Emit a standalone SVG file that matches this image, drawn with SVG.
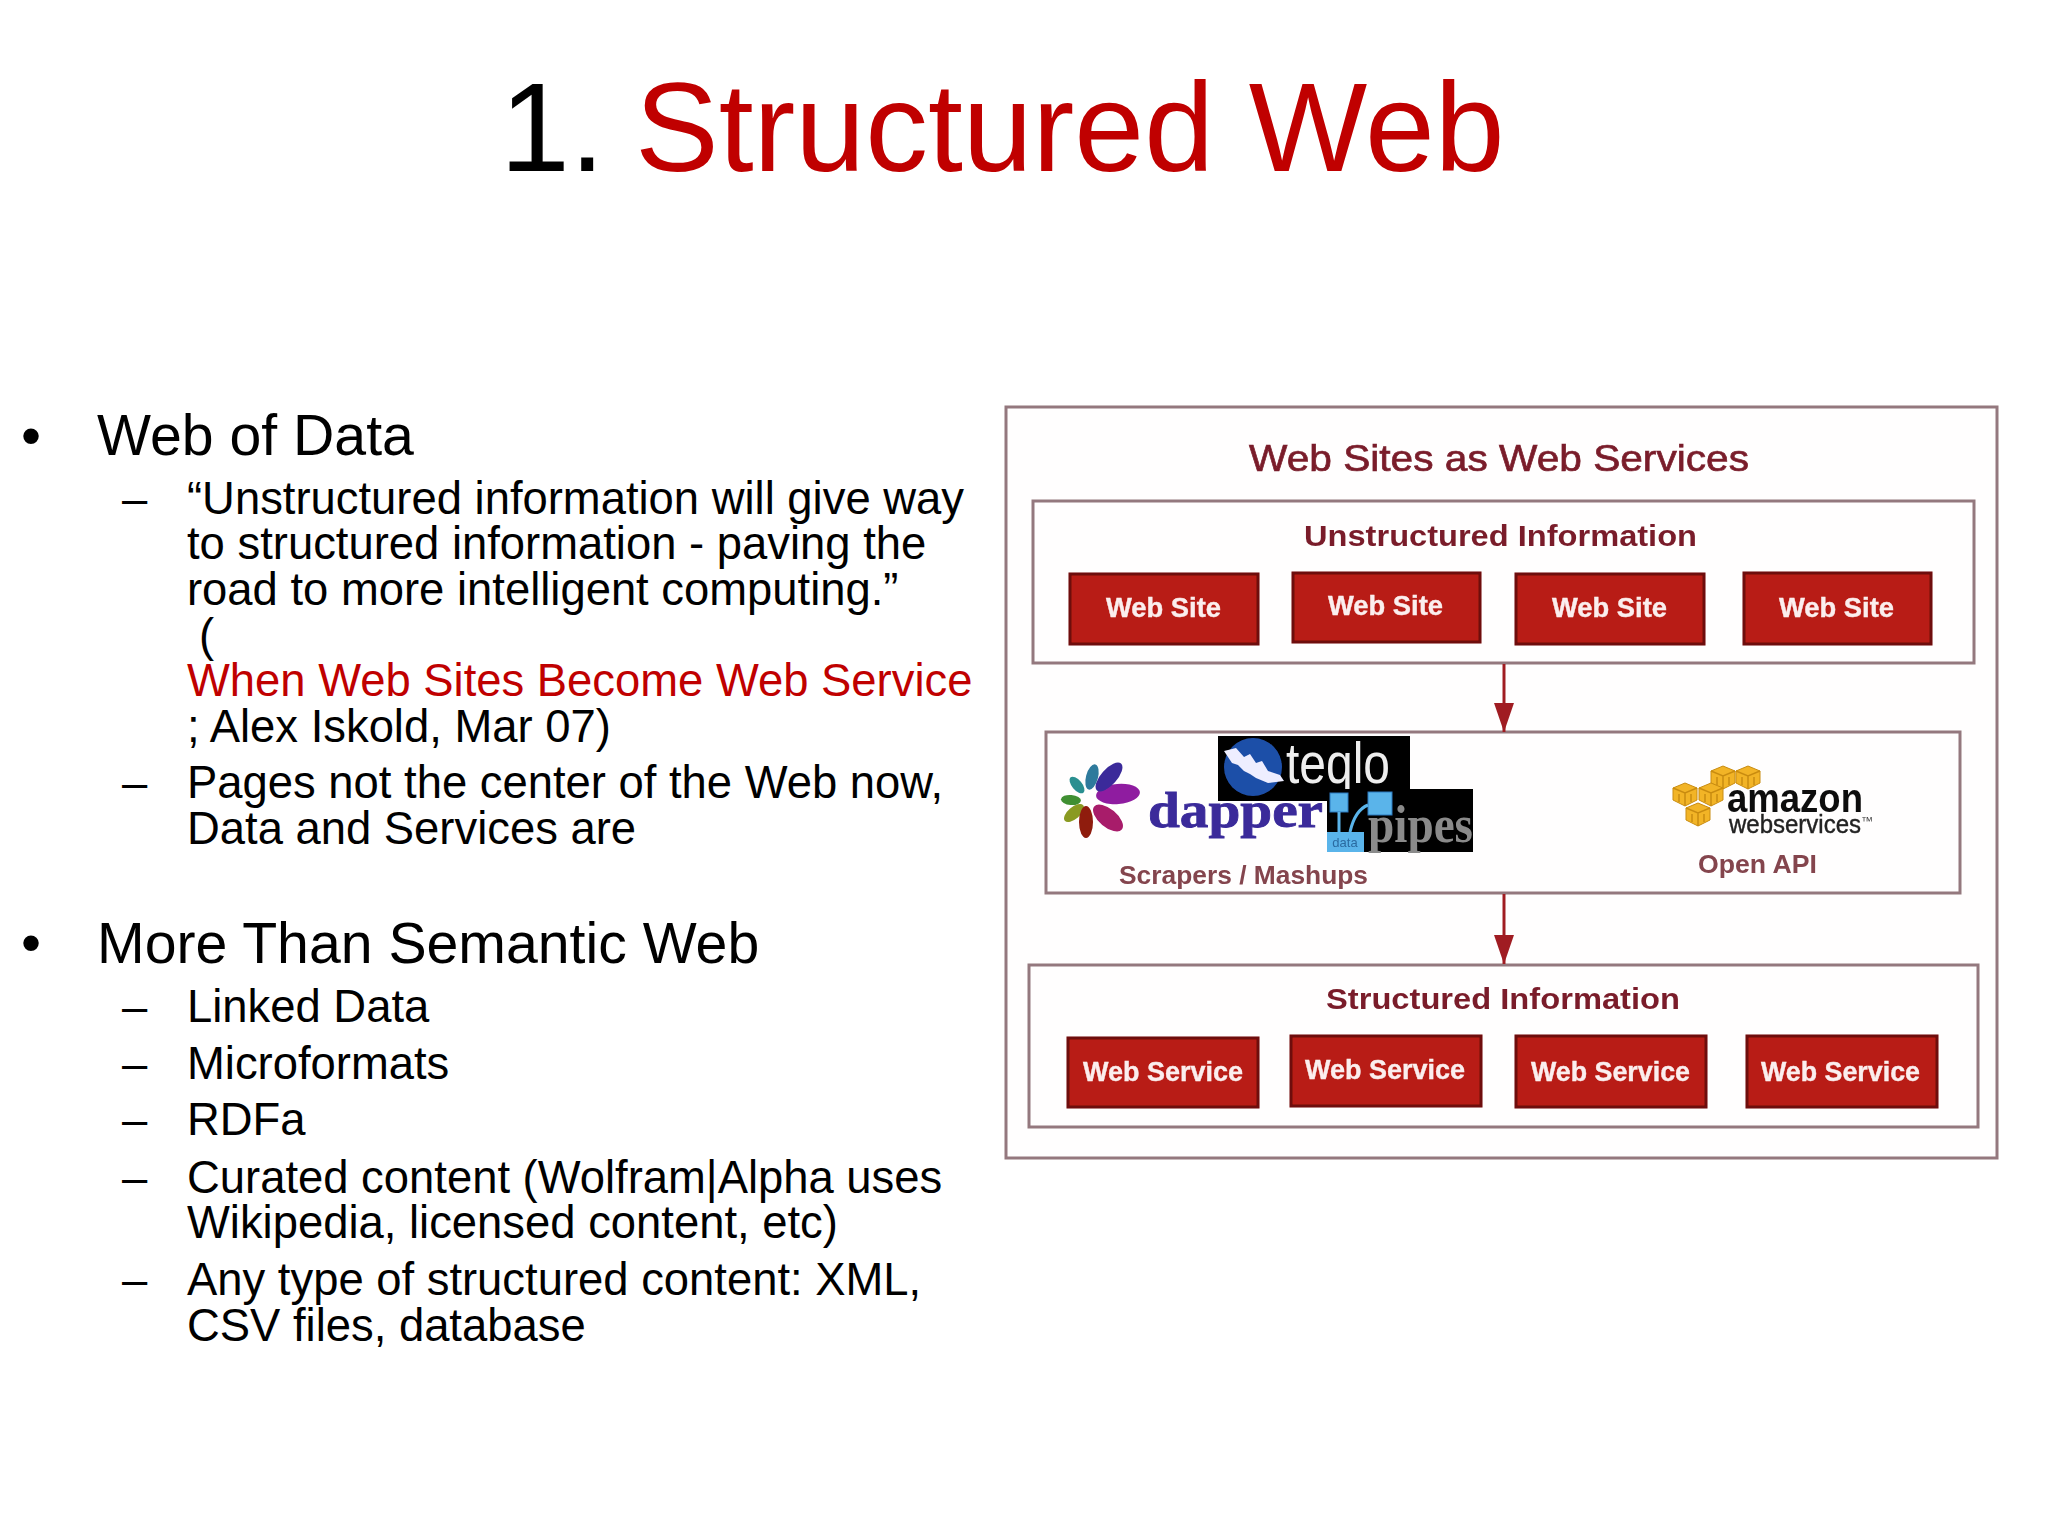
<svg xmlns="http://www.w3.org/2000/svg" width="2048" height="1536" viewBox="0 0 2048 1536">
<style>
text{font-family:"Liberation Sans",Arial,sans-serif}
.b1{font-size:57.2px;fill:#000}
.b2{font-size:45.4px;fill:#000}
.r{fill:#c00000}
.frame{fill:#fffefe;stroke:#94787e;stroke-width:3}
.box{fill:#b81a12;stroke:#6e0b0a;stroke-width:3}
.lbl{font-size:27px;font-weight:bold;fill:#fbeeee;stroke:#fbeeee;stroke-width:.4}
.hd{font-weight:bold;fill:#7a1f2c}
.sub{font-size:26px;font-weight:bold;fill:#84444e}
.conn{stroke:#a01f24;stroke-width:3;fill:none}
.cube{fill:#f2b428;stroke:#c98c10;stroke-width:1}
.soft{filter:url(#soft)}
</style>
<defs>
<filter id="soft" filterUnits="userSpaceOnUse" x="1000" y="400" width="1010" height="770"><feGaussianBlur stdDeviation="0.7"/></filter>
<marker id="ah" markerUnits="userSpaceOnUse" markerWidth="30" markerHeight="22" refX="29" refY="10" orient="auto"><path d="M0 0L29 10L0 20Z" fill="#a01f24"/></marker>
<clipPath id="clipLeft"><rect x="0" y="640" width="971" height="80"/></clipPath>
<g id="cubeShape"><path class="cube" d="M-12 -10l12-5 12 5v12l-12 6-12-6z"/><path d="M-12 -10l12 5 12-5M0 -5V8M-6 -4V4M6 -4V4" stroke="#c98c10" stroke-width="1.5" fill="none"/></g>
</defs>
<rect width="2048" height="1536" fill="#fff"/>
<g id="title"><text y="171" font-size="125.5"><tspan x="500" fill="#000">1.</tspan><tspan x="635" fill="#c00000">Structured Web</tspan></text></g>
<g id="bullets">
<text x="21" y="455" class="b1">•</text><text x="97" y="455" class="b1">Web of Data</text>
<text x="122" y="514" class="b2">–</text><text x="187" y="514" class="b2">“Unstructured information will give way</text>
<text x="187" y="559" class="b2">to structured information - paving the</text>
<text x="187" y="605" class="b2">road to more intelligent computing.”</text>
<text x="199" y="651" class="b2">(</text>
<text x="187" y="696" class="b2 r" clip-path="url(#clipLeft)">When Web Sites Become Web Services</text>
<text x="187" y="742" class="b2">; Alex Iskold, Mar 07)</text>
<text x="122" y="798" class="b2">–</text><text x="187" y="798" class="b2">Pages not the center of the Web now,</text>
<text x="187" y="844" class="b2">Data and Services are</text>
<text x="21" y="962" class="b1">•</text><text x="97" y="963" class="b1">More Than Semantic Web</text>
<text x="122" y="1022" class="b2">–</text><text x="187" y="1022" class="b2">Linked Data</text>
<text x="122" y="1079" class="b2">–</text><text x="187" y="1079" class="b2">Microformats</text>
<text x="122" y="1135" class="b2">–</text><text x="187" y="1135" class="b2">RDFa</text>
<text x="122" y="1193" class="b2">–</text><text x="187" y="1193" class="b2">Curated content (Wolfram|Alpha uses</text>
<text x="187" y="1238" class="b2">Wikipedia, licensed content, etc)</text>
<text x="122" y="1295" class="b2">–</text><text x="187" y="1295" class="b2">Any type of structured content: XML,</text>
<text x="187" y="1341" class="b2">CSV files, database</text>
</g>
<g id="outer" class="soft"><rect class="frame" x="1006" y="407" width="991" height="751"/>
<text x="1249" y="471" font-size="37" class="hd" style="font-weight:normal;stroke:#7a1f2c;stroke-width:.7" textLength="500" lengthAdjust="spacingAndGlyphs">Web Sites as Web Services</text></g>
<g id="unstructured" class="soft"><rect class="frame" x="1033" y="501" width="941" height="162"/>
<text x="1304" y="546" font-size="30" class="hd" textLength="393" lengthAdjust="spacingAndGlyphs">Unstructured Information</text></g>
<g id="site1" class="soft"><rect class="box" x="1070" y="574" width="188" height="70"/><text class="lbl" x="1106" y="617" textLength="115" lengthAdjust="spacingAndGlyphs">Web Site</text></g>
<g id="site2" class="soft"><rect class="box" x="1293" y="573" width="187" height="69"/><text class="lbl" x="1328" y="615" textLength="115" lengthAdjust="spacingAndGlyphs">Web Site</text></g>
<g id="site3" class="soft"><rect class="box" x="1516" y="574" width="188" height="70"/><text class="lbl" x="1552" y="617" textLength="115" lengthAdjust="spacingAndGlyphs">Web Site</text></g>
<g id="site4" class="soft"><rect class="box" x="1744" y="573" width="187" height="71"/><text class="lbl" x="1779" y="617" textLength="115" lengthAdjust="spacingAndGlyphs">Web Site</text></g>
<g id="middle" class="soft"><rect class="frame" x="1046" y="732" width="914" height="161"/>
<g id="flower">
<ellipse cx="1118" cy="794" rx="22" ry="10" fill="#8f1fa0" transform="rotate(-5 1118 794)"/>
<ellipse cx="1109" cy="777" rx="18" ry="8" fill="#3a2a9a" transform="rotate(-48 1109 777)"/>
<ellipse cx="1092" cy="777" rx="13" ry="6" fill="#2f7a9c" transform="rotate(-75 1092 777)"/>
<ellipse cx="1077" cy="785" rx="10" ry="5" fill="#2a8f90" transform="rotate(-130 1077 785)"/>
<ellipse cx="1071" cy="800" rx="10" ry="5" fill="#3f8f30" transform="rotate(-175 1071 800)"/>
<ellipse cx="1074" cy="813" rx="12" ry="6" fill="#8a9a20" transform="rotate(140 1074 813)"/>
<ellipse cx="1086" cy="822" rx="7" ry="16" fill="#8f1a10"/>
<ellipse cx="1108" cy="818" rx="18" ry="9" fill="#a81a6a" transform="rotate(40 1108 818)"/>
</g>
<text x="1148" y="827" font-size="50" font-weight="bold" fill="#3a2a9a" stroke="#3a2a9a" stroke-width=".8" style="font-family:'Liberation Serif',serif" textLength="175" lengthAdjust="spacingAndGlyphs">dapper</text>
<g id="teqlo"><rect x="1218" y="736" width="192" height="65" fill="#000"/>
<circle cx="1253" cy="767" r="29" fill="#1f4fa8"/>
<path d="M1224 751L1236 748L1244 757L1250 754L1256 763L1262 761L1268 771L1280 775L1284 781L1268 783L1256 778L1250 774L1244 771L1238 765L1232 763Z" fill="#eef"/>
<text x="1286" y="783" font-size="58" fill="#eee" textLength="104" lengthAdjust="spacingAndGlyphs">teqlo</text></g>
<g id="pipes"><rect x="1327" y="789" width="146" height="63" fill="#000"/>
<rect x="1330" y="793" width="18" height="19" fill="#5ab4ea" stroke="#2a7ac0"/><rect x="1368" y="792" width="24" height="23" fill="#5ab4ea" stroke="#2a7ac0"/>
<path d="M1339 812V832M1368 805Q1355 810 1350 832" stroke="#5ab4ea" stroke-width="3" fill="none"/>
<rect x="1327" y="832" width="37" height="20" fill="#5ab4ea"/>
<text x="1345" y="847" font-size="13" text-anchor="middle" fill="#2a6aa0">data</text>
<text x="1368" y="842" font-size="52" font-weight="bold" fill="#8a8a8a" style="font-family:'Liberation Serif',serif" textLength="105" lengthAdjust="spacingAndGlyphs">pipes</text></g>
<text x="1119" y="884" class="sub" textLength="249" lengthAdjust="spacingAndGlyphs">Scrapers / Mashups</text>
<g id="aws">
<use href="#cubeShape" x="1723" y="781"/><use href="#cubeShape" x="1748" y="781"/>
<use href="#cubeShape" x="1685" y="798"/><use href="#cubeShape" x="1711" y="798"/>
<use href="#cubeShape" x="1698" y="818"/>
<text x="1727" y="812" font-size="40" font-weight="bold" fill="#111" textLength="136" lengthAdjust="spacingAndGlyphs">amazon</text>
<text x="1729" y="833" font-size="25" fill="#222" stroke="#222" stroke-width=".4" textLength="132" lengthAdjust="spacingAndGlyphs">webservices</text>
<text x="1861" y="825" font-size="12" fill="#444">™</text></g>
<text x="1698" y="873" class="sub" textLength="119" lengthAdjust="spacingAndGlyphs">Open API</text></g>
<g id="structured" class="soft"><rect class="frame" x="1029" y="965" width="949" height="162"/>
<text x="1326" y="1009" font-size="30" class="hd" textLength="354" lengthAdjust="spacingAndGlyphs">Structured Information</text></g>
<g id="svc1" class="soft"><rect class="box" x="1068" y="1038" width="190" height="69"/><text class="lbl" x="1083" y="1081" textLength="160" lengthAdjust="spacingAndGlyphs">Web Service</text></g>
<g id="svc2" class="soft"><rect class="box" x="1291" y="1036" width="190" height="70"/><text class="lbl" x="1305" y="1079" textLength="160" lengthAdjust="spacingAndGlyphs">Web Service</text></g>
<g id="svc3" class="soft"><rect class="box" x="1516" y="1036" width="190" height="71"/><text class="lbl" x="1531" y="1081" textLength="159" lengthAdjust="spacingAndGlyphs">Web Service</text></g>
<g id="svc4" class="soft"><rect class="box" x="1747" y="1036" width="190" height="71"/><text class="lbl" x="1761" y="1081" textLength="159" lengthAdjust="spacingAndGlyphs">Web Service</text></g>
<g id="connectors" class="soft">
<path class="conn" d="M1504 664V732" marker-end="url(#ah)"/>
<path class="conn" d="M1504 894V964" marker-end="url(#ah)"/>
</g>
</svg>
